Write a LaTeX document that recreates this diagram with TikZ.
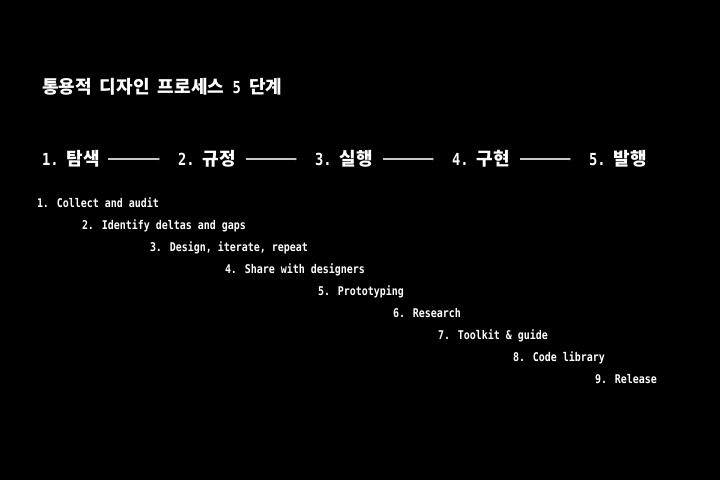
\documentclass[tikz,border=0pt]{standalone}
\usepackage{fontspec}
\usetikzlibrary{arrows.meta}
\newfontfamily\krf{Noto Sans CJK KR}
\newfontfamily\monof{DejaVu Sans Mono}[FakeStretch=0.83]
\newcommand\hsp{\hspace{8.3pt}}
\newcommand\kt[1]{{\fontsize{18pt}{20pt}\krf\bfseries #1}}
\newcommand\mt[1]{{\fontsize{16.6pt}{18pt}\monof\bfseries #1}}
\begin{document}
\begin{tikzpicture}[x=1pt,y=-1pt,
  txt/.style={anchor=base west,inner sep=0pt,outer sep=0pt,text=white},
  stepbox/.style={txt},
  item/.style={txt,font=\fontsize{12pt}{14pt}\monof\bfseries},
  link/.style={draw=black!22!white,line width=1.4pt,-{Latex[length=2pt,width=3pt]}}]
\fill[black] (0,0) rectangle (720,480);
\useasboundingbox (0,0) rectangle (720,480);
\node[txt] (title) at (42,93.5) {\kt{통용적}\hsp\kt{디자인}\hsp\kt{프로세스}\hsp\mt{5}\hsp\kt{단계}};
\node[stepbox] (s1) at (42,165) {\mt{1.}\hsp\kt{탐색}};
\node[stepbox] (s2) at (178,165) {\mt{2.}\hsp\kt{규정}};
\node[stepbox] (s3) at (315,165) {\mt{3.}\hsp\kt{실행}};
\node[stepbox] (s4) at (452,165) {\mt{4.}\hsp\kt{구현}};
\node[stepbox] (s5) at (589,165) {\mt{5.}\hsp\kt{발행}};
\coordinate (a1) at (108,159); \coordinate (b1) at (160,159);
\coordinate (a2) at (246,159); \coordinate (b2) at (297,159);
\coordinate (a3) at (383,159); \coordinate (b3) at (434,159);
\coordinate (a4) at (520,159); \coordinate (b4) at (571,159);
\draw[link] (a1) -- (b1);
\draw[link] (a2) -- (b2);
\draw[link] (a3) -- (b3);
\draw[link] (a4) -- (b4);
\node[item] (i1) at (37,207) {1. Collect and audit};
\node[item] (i2) at (82,229) {2. Identify deltas and gaps};
\node[item] (i3) at (150,251) {3. Design, iterate, repeat};
\node[item] (i4) at (225,273) {4. Share with designers};
\node[item] (i5) at (318,295) {5. Prototyping};
\node[item] (i6) at (393,317) {6. Research};
\node[item] (i7) at (438,339) {7. Toolkit \& guide};
\node[item] (i8) at (513,361) {8. Code library};
\node[item] (i9) at (595,383) {9. Release};
\end{tikzpicture}
\end{document}
